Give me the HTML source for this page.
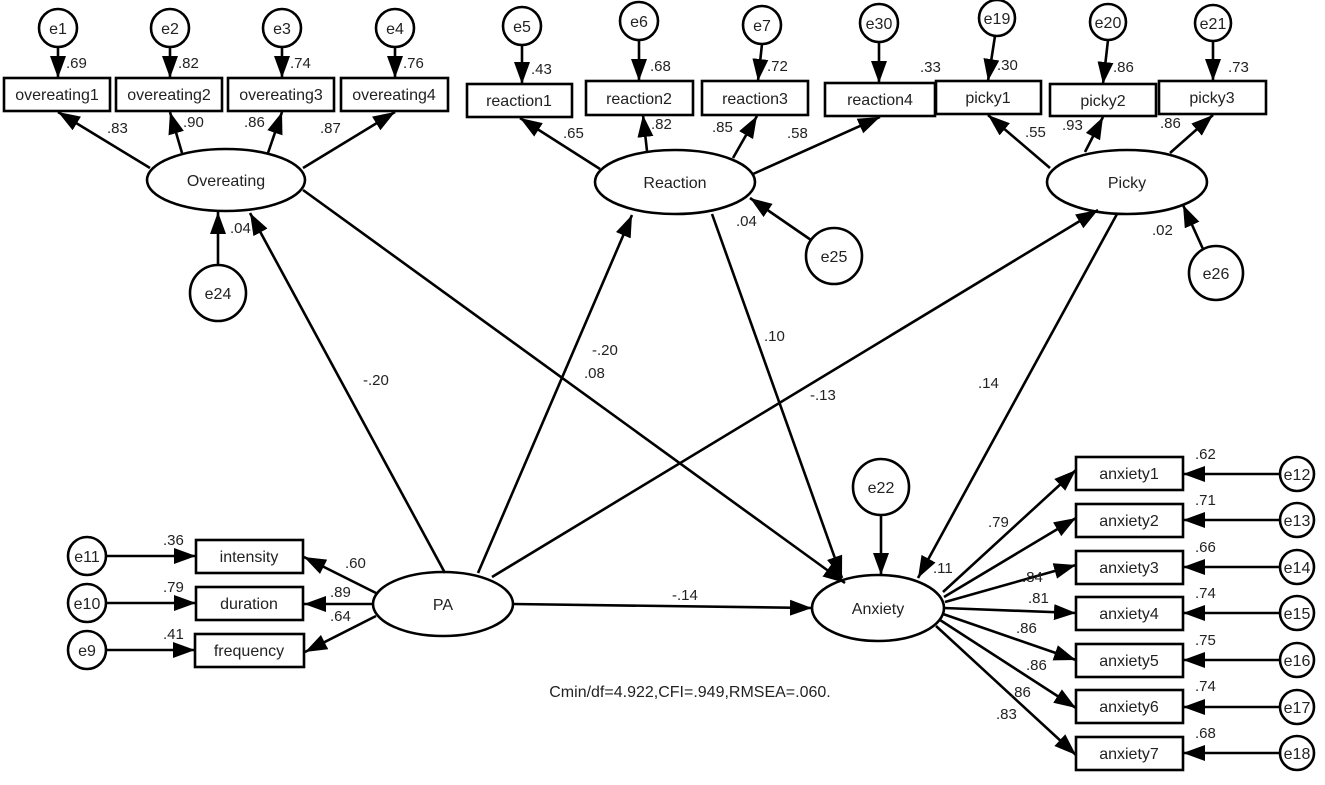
<!DOCTYPE html>
<html><head><meta charset="utf-8"><style>
html,body{margin:0;padding:0;background:#fff;}
svg text{font-family:"Liberation Sans",Arial,sans-serif;fill:#222;}
</style></head><body>
<svg width="1325" height="780" viewBox="0 0 1325 780" xmlns="http://www.w3.org/2000/svg">
<defs>
<marker id="a" markerUnits="userSpaceOnUse" markerWidth="24" markerHeight="20" refX="22" refY="8" orient="auto">
<path d="M0,0 L22,8 L0,16 z" fill="#000"/>
</marker>
</defs>
<g stroke="#000" stroke-width="2.6" fill="none">
<!-- Overeating -->
<rect x="4" y="78" width="106" height="33" fill="#fff"/>
<rect x="116" y="78" width="106" height="33" fill="#fff"/>
<rect x="228" y="78" width="106" height="33" fill="#fff"/>
<rect x="341" y="78" width="107" height="33" fill="#fff"/>
<circle cx="58" cy="28" r="19"/><circle cx="170" cy="28" r="19"/><circle cx="282" cy="28" r="19"/><circle cx="395" cy="28" r="19"/>
<line x1="58" y1="47" x2="58" y2="78" marker-end="url(#a)"/>
<line x1="170" y1="47" x2="170" y2="78" marker-end="url(#a)"/>
<line x1="282" y1="47" x2="282" y2="78" marker-end="url(#a)"/>
<line x1="395" y1="47" x2="395" y2="78" marker-end="url(#a)"/>
<ellipse cx="226" cy="180" rx="79" ry="31"/>
<line x1="150" y1="168" x2="58" y2="112" marker-end="url(#a)"/>
<line x1="182" y1="153" x2="170" y2="112" marker-end="url(#a)"/>
<line x1="268" y1="153" x2="282" y2="112" marker-end="url(#a)"/>
<line x1="303" y1="168" x2="395" y2="112" marker-end="url(#a)"/>
<circle cx="218" cy="293" r="28"/>
<line x1="218" y1="265" x2="218" y2="212" marker-end="url(#a)"/>
<!-- Reaction -->
<rect x="467" y="84" width="105" height="33" fill="#fff"/>
<rect x="586" y="81" width="107" height="34" fill="#fff"/>
<rect x="702" y="81" width="106" height="34" fill="#fff"/>
<rect x="825" y="83" width="110" height="33" fill="#fff"/>
<circle cx="522" cy="26" r="19"/><circle cx="639" cy="21" r="19"/><circle cx="762" cy="25" r="19"/><circle cx="879" cy="23" r="19"/>
<line x1="522" y1="45" x2="522" y2="84" marker-end="url(#a)"/>
<line x1="639" y1="40" x2="639" y2="81" marker-end="url(#a)"/>
<line x1="762" y1="44" x2="758" y2="81" marker-end="url(#a)"/>
<line x1="879" y1="42" x2="879" y2="83" marker-end="url(#a)"/>
<ellipse cx="675" cy="182" rx="80" ry="32"/>
<line x1="600" y1="169" x2="520" y2="118" marker-end="url(#a)"/>
<line x1="647" y1="151" x2="643" y2="115" marker-end="url(#a)"/>
<line x1="733" y1="158" x2="757" y2="116" marker-end="url(#a)"/>
<line x1="753" y1="174" x2="880" y2="117" marker-end="url(#a)"/>
<circle cx="834" cy="256" r="28"/>
<line x1="811" y1="240" x2="750" y2="198" marker-end="url(#a)"/>
<!-- Picky -->
<rect x="936" y="81" width="105" height="33" fill="#fff"/>
<rect x="1050" y="84" width="106" height="32" fill="#fff"/>
<rect x="1159" y="81" width="107" height="33" fill="#fff"/>
<circle cx="997" cy="18" r="18"/><circle cx="1108" cy="22" r="18"/><circle cx="1213" cy="23" r="18"/>
<line x1="995" y1="36" x2="988" y2="81" marker-end="url(#a)"/>
<line x1="1108" y1="40" x2="1103" y2="84" marker-end="url(#a)"/>
<line x1="1213" y1="41" x2="1213" y2="81" marker-end="url(#a)"/>
<ellipse cx="1127" cy="182" rx="80" ry="32"/>
<line x1="1050" y1="168" x2="988" y2="115" marker-end="url(#a)"/>
<line x1="1085" y1="152" x2="1103" y2="117" marker-end="url(#a)"/>
<line x1="1170" y1="153" x2="1213" y2="115" marker-end="url(#a)"/>
<circle cx="1216" cy="273" r="27"/>
<line x1="1203" y1="249" x2="1183" y2="205" marker-end="url(#a)"/>
<!-- PA -->
<ellipse cx="443" cy="604" rx="70" ry="32"/>
<rect x="196" y="540" width="107" height="33" fill="#fff"/>
<rect x="196" y="587" width="107" height="33" fill="#fff"/>
<rect x="195" y="634" width="109" height="33" fill="#fff"/>
<circle cx="87" cy="556" r="19"/><circle cx="87" cy="603" r="19"/><circle cx="87" cy="650" r="19"/>
<line x1="106" y1="556" x2="196" y2="556" marker-end="url(#a)"/>
<line x1="106" y1="603" x2="196" y2="603" marker-end="url(#a)"/>
<line x1="106" y1="650" x2="195" y2="650" marker-end="url(#a)"/>
<line x1="376" y1="593" x2="304" y2="557" marker-end="url(#a)"/>
<line x1="373" y1="604" x2="304" y2="604" marker-end="url(#a)"/>
<line x1="376" y1="616" x2="305" y2="652" marker-end="url(#a)"/>
<!-- structural -->
<line x1="445" y1="573" x2="250" y2="213" marker-end="url(#a)"/>
<line x1="478" y1="573" x2="632" y2="215" marker-end="url(#a)"/>
<line x1="492" y1="577" x2="1098" y2="210" marker-end="url(#a)"/>
<line x1="303" y1="190" x2="845" y2="583" marker-end="url(#a)"/>
<line x1="712" y1="214" x2="842" y2="578" marker-end="url(#a)"/>
<line x1="1117" y1="214" x2="918" y2="578" marker-end="url(#a)"/>
<line x1="513" y1="604" x2="812" y2="608" marker-end="url(#a)"/>
<!-- Anxiety -->
<ellipse cx="878" cy="608" rx="66" ry="33"/>
<circle cx="881" cy="487" r="28"/>
<line x1="881" y1="515" x2="881" y2="575" marker-end="url(#a)"/>
<line x1="943" y1="592" x2="1076" y2="470" marker-end="url(#a)"/>
<line x1="944" y1="597" x2="1076" y2="518" marker-end="url(#a)"/>
<line x1="945" y1="602" x2="1076" y2="565" marker-end="url(#a)"/>
<line x1="944" y1="608" x2="1076" y2="613" marker-end="url(#a)"/>
<line x1="943" y1="614" x2="1076" y2="660" marker-end="url(#a)"/>
<line x1="940" y1="620" x2="1076" y2="708" marker-end="url(#a)"/>
<line x1="936" y1="626" x2="1076" y2="755" marker-end="url(#a)"/>
<rect x="1076" y="457" width="107" height="33" fill="#fff"/>
<rect x="1076" y="504" width="107" height="33" fill="#fff"/>
<rect x="1076" y="551" width="107" height="33" fill="#fff"/>
<rect x="1076" y="597" width="107" height="33" fill="#fff"/>
<rect x="1076" y="644" width="107" height="33" fill="#fff"/>
<rect x="1076" y="690" width="107" height="33" fill="#fff"/>
<rect x="1076" y="737" width="107" height="33" fill="#fff"/>
<circle cx="1297" cy="474" r="17"/><circle cx="1297" cy="520" r="17"/><circle cx="1297" cy="567" r="17"/><circle cx="1297" cy="613" r="17"/><circle cx="1297" cy="660" r="17"/><circle cx="1297" cy="707" r="17"/><circle cx="1297" cy="753" r="17"/>
<line x1="1280" y1="474" x2="1183" y2="474" marker-end="url(#a)"/>
<line x1="1280" y1="520" x2="1183" y2="520" marker-end="url(#a)"/>
<line x1="1280" y1="567" x2="1183" y2="567" marker-end="url(#a)"/>
<line x1="1280" y1="613" x2="1183" y2="613" marker-end="url(#a)"/>
<line x1="1280" y1="660" x2="1183" y2="660" marker-end="url(#a)"/>
<line x1="1280" y1="707" x2="1183" y2="707" marker-end="url(#a)"/>
<line x1="1280" y1="753" x2="1183" y2="753" marker-end="url(#a)"/>
</g>
<g font-size="16" text-anchor="middle">
<text x="57" y="100">overeating1</text><text x="169" y="100">overeating2</text><text x="281" y="100">overeating3</text><text x="394" y="100">overeating4</text>
<text x="58" y="34">e1</text><text x="170" y="34">e2</text><text x="282" y="34">e3</text><text x="395" y="34">e4</text>
<text x="226" y="186">Overeating</text><text x="218" y="299">e24</text>
<text x="519" y="106">reaction1</text><text x="639" y="104">reaction2</text><text x="755" y="104">reaction3</text><text x="880" y="105">reaction4</text>
<text x="522" y="32">e5</text><text x="639" y="27">e6</text><text x="762" y="31">e7</text><text x="879" y="29">e30</text>
<text x="675" y="188">Reaction</text><text x="834" y="262">e25</text>
<text x="988" y="103">picky1</text><text x="1103" y="106">picky2</text><text x="1212" y="103">picky3</text>
<text x="997" y="24">e19</text><text x="1108" y="28">e20</text><text x="1213" y="29">e21</text>
<text x="1127" y="188">Picky</text><text x="1216" y="279">e26</text>
<text x="443" y="610">PA</text>
<text x="249" y="562">intensity</text><text x="249" y="609">duration</text><text x="249" y="656">frequency</text>
<text x="87" y="562">e11</text><text x="87" y="609">e10</text><text x="87" y="656">e9</text>
<text x="878" y="614">Anxiety</text><text x="881" y="493">e22</text>
<text x="1129" y="479">anxiety1</text><text x="1129" y="526">anxiety2</text><text x="1129" y="573">anxiety3</text><text x="1129" y="619">anxiety4</text><text x="1129" y="666">anxiety5</text><text x="1129" y="712">anxiety6</text><text x="1129" y="759">anxiety7</text>
<text x="1297" y="480">e12</text><text x="1297" y="526">e13</text><text x="1297" y="573">e14</text><text x="1297" y="619">e15</text><text x="1297" y="666">e16</text><text x="1297" y="713">e17</text><text x="1297" y="759">e18</text>
<text x="690" y="697">Cmin/df=4.922,CFI=.949,RMSEA=.060.</text>
</g>
<g font-size="15">
<text x="66" y="68">.69</text><text x="178" y="68">.82</text><text x="290" y="68">.74</text><text x="403" y="68">.76</text>
<text x="107" y="133">.83</text><text x="183" y="127">.90</text><text x="244" y="127">.86</text><text x="320" y="133">.87</text>
<text x="230" y="233">.04</text>
<text x="531" y="74">.43</text><text x="650" y="71">.68</text><text x="767" y="71">.72</text><text x="920" y="72">.33</text>
<text x="563" y="138">.65</text><text x="651" y="129">.82</text><text x="712" y="132">.85</text><text x="787" y="138">.58</text>
<text x="736" y="226">.04</text>
<text x="997" y="70">.30</text><text x="1113" y="72">.86</text><text x="1228" y="72">.73</text>
<text x="1025" y="137">.55</text><text x="1062" y="130">.93</text><text x="1160" y="128">.86</text>
<text x="1152" y="235">.02</text>
<text x="163" y="545">.36</text><text x="163" y="592">.79</text><text x="163" y="639">.41</text>
<text x="345" y="568">.60</text><text x="330" y="597">.89</text><text x="330" y="621">.64</text>
<text x="363" y="385">-.20</text><text x="592" y="355">-.20</text><text x="584" y="378">.08</text>
<text x="764" y="341">.10</text><text x="810" y="400">-.13</text><text x="978" y="388">.14</text>
<text x="672" y="600">-.14</text><text x="933" y="573">.11</text>
<text x="1195" y="459">.62</text><text x="1195" y="505">.71</text><text x="1195" y="552">.66</text><text x="1195" y="598">.74</text><text x="1195" y="645">.75</text><text x="1195" y="691">.74</text><text x="1195" y="738">.68</text>
<text x="988" y="527">.79</text><text x="1022" y="582">.84</text><text x="1028" y="603">.81</text><text x="1016" y="633">.86</text><text x="1026" y="670">.86</text><text x="1010" y="697">.86</text><text x="996" y="719">.83</text>
</g>
</svg>
</body></html>
